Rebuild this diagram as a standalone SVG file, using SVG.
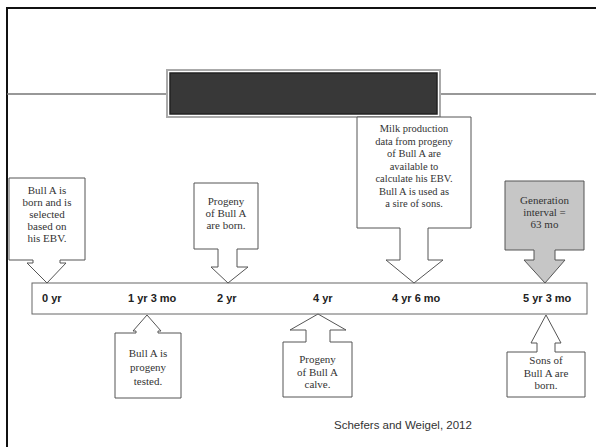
<svg xmlns="http://www.w3.org/2000/svg" width="596" height="447" viewBox="0 0 596 447">
<style>
.frame{stroke:#111;stroke-width:2;fill:none}
.rule{stroke:#777;stroke-width:1.5;fill:none}
.call{fill:#fff;stroke:#555;stroke-width:1}
.gen{fill:#c6c6c6;stroke:#555;stroke-width:1}
.bt{font-family:"Liberation Serif","Times New Roman",serif;font-size:11px;fill:#333;text-anchor:middle}
.mt{font-family:"Liberation Serif","Times New Roman",serif;font-size:10.5px;fill:#333;text-anchor:middle}
.tl{font-family:"Liberation Sans",Arial,sans-serif;font-size:11px;font-weight:bold;fill:#222}
.cite{font-family:"Liberation Sans",Arial,sans-serif;font-size:11.5px;fill:#333}
</style>
<rect width="596" height="447" fill="#fff"/>
<g id="frame">
<path class="frame" d="M7,447 V8 H596"/>
<path class="rule" d="M7,94 H167 M440,94 H596"/>
</g>
<g id="title-bar">
<rect x="167" y="70" width="273" height="47" fill="#fff" stroke="#aaa" stroke-width="2"/>
<rect x="170" y="73" width="267" height="41" fill="#383838" stroke="#222" stroke-width="1.5"/>
</g>
<g id="timeline">
<rect x="32" y="283" width="555" height="31" fill="#fff" stroke="#666" stroke-width="1"/>
<text class="tl" x="42" y="302">0 yr</text>
<text class="tl" x="128" y="302">1 yr 3 mo</text>
<text class="tl" x="217" y="302">2 yr</text>
<text class="tl" x="313" y="302">4 yr</text>
<text class="tl" x="392" y="302">4 yr 6 mo</text>
<text class="tl" x="523" y="302">5 yr 3 mo</text>
</g>
<g id="connectors">
</g>
<g id="node-born">
<path class="call" d="M9,178 H85 V260 H60 V263 H66 L47,283 L27,263 H33 V260 H9 Z"/>
<text class="bt" x="47" y="194">Bull A is</text>
<text class="bt" x="47" y="206">born and is</text>
<text class="bt" x="47" y="218">selected</text>
<text class="bt" x="47" y="230">based on</text>
<text class="bt" x="47" y="242">his EBV.</text>
</g>
<g id="node-progeny-born">
<path class="call" d="M194,183 H258 V249 H237 V267 H248 L228,283 L211,267 H218 V249 H194 Z"/>
<text class="bt" x="226" y="205">Progeny</text>
<text class="bt" x="226" y="217">of Bull A</text>
<text class="bt" x="226" y="229">are born.</text>
</g>
<g id="node-milk">
<path class="call" d="M357,117 H471 V228 H428 V260 H443 L414,283 L386,260 H400 V228 H357 Z"/>
<text class="mt" x="414" y="132">Milk production</text>
<text class="mt" x="414" y="144.5">data from progeny</text>
<text class="mt" x="414" y="157">of Bull A are</text>
<text class="mt" x="414" y="169.5">available to</text>
<text class="mt" x="414" y="182">calculate his EBV.</text>
<text class="mt" x="414" y="194.5">Bull A is used as</text>
<text class="mt" x="414" y="207">a sire of sons.</text>
</g>
<g id="node-generation">
<path class="gen" d="M505,181 H584 V250 H555 V260 H565 L545,283 L524,260 H534 V250 H505 Z"/>
<text class="bt" x="544.5" y="204">Generation</text>
<text class="bt" x="544.5" y="216">interval =</text>
<text class="bt" x="544.5" y="228">63 mo</text>
</g>
<g id="node-tested">
<path class="call" d="M115,333 H136 V331 H133 L147,315 L161,331 H158 V333 H181 V398 H115 Z"/>
<text class="bt" x="148" y="357">Bull A is</text>
<text class="bt" x="148" y="371">progeny</text>
<text class="bt" x="148" y="385">tested.</text>
</g>
<g id="node-calve">
<path class="call" d="M283,342 H306 V330 H290 L318,314 L346,330 H330 V342 H352 V397 H283 Z"/>
<text class="bt" x="317.5" y="363">Progeny</text>
<text class="bt" x="317.5" y="376">of Bull A</text>
<text class="bt" x="317.5" y="388">calve.</text>
</g>
<g id="node-sons">
<path class="call" d="M507,352 H537 V343 H531 L546,315 L561,343 H555 V352 H585 V397 H507 Z"/>
<text class="bt" x="546" y="364">Sons of</text>
<text class="bt" x="546" y="377">Bull A are</text>
<text class="bt" x="546" y="389">born.</text>
</g>
<text class="cite" x="334" y="429">Schefers and Weigel, 2012</text>
</svg>
